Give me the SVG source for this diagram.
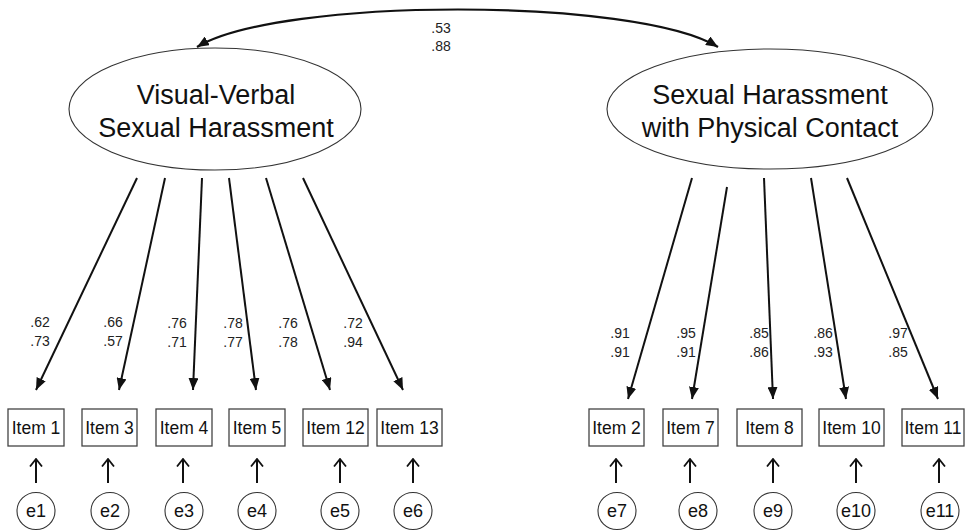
<svg xmlns="http://www.w3.org/2000/svg" width="966" height="531" viewBox="0 0 966 531">
<style>
  .lat{fill:#fff;stroke:#333;stroke-width:1.1}
  .box{fill:#fff;stroke:#444;stroke-width:1.3}
  .err{fill:#fff;stroke:#333;stroke-width:1.1}
  .big{font-family:"Liberation Sans",Arial,sans-serif;font-size:27px;fill:#111;text-anchor:middle}
  .itm{font-family:"Liberation Sans",Arial,sans-serif;font-size:17.5px;fill:#111;text-anchor:middle}
  .el{font-family:"Liberation Sans",Arial,sans-serif;font-size:18px;fill:#111;text-anchor:middle}
  .lbl{font-family:"Liberation Sans",Arial,sans-serif;font-size:14px;fill:#222;text-anchor:middle}
  .ld{fill:none;stroke:#111;stroke-width:2;marker-end:url(#ah)}
  .ea{fill:none;stroke:#111;stroke-width:2;marker-end:url(#oa)}
  .cv{fill:none;stroke:#111;stroke-width:2.2;marker-start:url(#ah2);marker-end:url(#ah)}
</style>
<defs>
  <marker id="ah" viewBox="0 0 12 10" refX="12" refY="5" markerWidth="12" markerHeight="10" markerUnits="userSpaceOnUse" orient="auto">
    <path d="M0,0 L12,5 L0,10 z" fill="#111"/>
  </marker>
  <marker id="ah2" viewBox="0 0 12 10" refX="12" refY="5" markerWidth="12" markerHeight="10" markerUnits="userSpaceOnUse" orient="auto-start-reverse">
    <path d="M0,0 L12,5 L0,10 z" fill="#111"/>
  </marker>
  <marker id="oa" viewBox="0 0 9 14" refX="8" refY="7" markerWidth="9" markerHeight="14" markerUnits="userSpaceOnUse" orient="auto">
    <path d="M0.5,1 L8,7 L0.5,13" fill="none" stroke="#111" stroke-width="1.8"/>
  </marker>
</defs>

<g id="connectors">
  <path class="cv" d="M197,47 C280,-3 636,-3 718,47"/>
  <path class="ld" d="M137,178 L36,390"/>
  <path class="ld" d="M165,178 L119,390"/>
  <path class="ld" d="M202,178 L193,390"/>
  <path class="ld" d="M229,178 L256,390"/>
  <path class="ld" d="M266,178 L330,390"/>
  <path class="ld" d="M303,178 L403,390"/>
  <path class="ld" d="M692,178 L628,399"/>
  <path class="ld" d="M727,187 L692,399"/>
  <path class="ld" d="M764,178 L773,399"/>
  <path class="ld" d="M811,178 L846,399"/>
  <path class="ld" d="M847,178 L938,399"/>
  <path class="ea" d="M36,483 V459"/>
  <path class="ea" d="M108,483 V459"/>
  <path class="ea" d="M183,483 V459"/>
  <path class="ea" d="M257,483 V459"/>
  <path class="ea" d="M340,483 V459"/>
  <path class="ea" d="M413,483 V459"/>
  <path class="ea" d="M616,483 V459"/>
  <path class="ea" d="M690,483 V459"/>
  <path class="ea" d="M773,483 V459"/>
  <path class="ea" d="M856,483 V459"/>
  <path class="ea" d="M939,483 V459"/>
</g>

<g id="labels">
  <text class="lbl" x="441" y="33">.53</text>
  <text class="lbl" x="441" y="51">.88</text>
  <text class="lbl" x="40" y="327">.62</text><text class="lbl" x="40" y="346">.73</text>
  <text class="lbl" x="113" y="327">.66</text><text class="lbl" x="113" y="346">.57</text>
  <text class="lbl" x="177" y="328">.76</text><text class="lbl" x="177" y="347">.71</text>
  <text class="lbl" x="233" y="328">.78</text><text class="lbl" x="233" y="347">.77</text>
  <text class="lbl" x="288" y="328">.76</text><text class="lbl" x="288" y="347">.78</text>
  <text class="lbl" x="353" y="328">.72</text><text class="lbl" x="353" y="347">.94</text>
  <text class="lbl" x="620" y="338">.91</text><text class="lbl" x="620" y="357">.91</text>
  <text class="lbl" x="686" y="338">.95</text><text class="lbl" x="686" y="357">.91</text>
  <text class="lbl" x="759" y="338">.85</text><text class="lbl" x="759" y="357">.86</text>
  <text class="lbl" x="823" y="338">.86</text><text class="lbl" x="823" y="357">.93</text>
  <text class="lbl" x="898" y="338">.97</text><text class="lbl" x="898" y="357">.85</text>
</g>

<g id="f1">
  <ellipse class="lat" cx="215" cy="109" rx="146" ry="61"/>
  <text class="big" x="216" y="104">Visual-Verbal</text>
  <text class="big" x="216" y="137">Sexual Harassment</text>
</g>
<g id="f2">
  <ellipse class="lat" cx="770" cy="109" rx="163" ry="60"/>
  <text class="big" x="770" y="104">Sexual Harassment</text>
  <text class="big" x="770" y="137">with Physical Contact</text>
</g>

<g id="item1"><rect class="box" x="8" y="409" width="56" height="37"/><text class="itm" x="36" y="434">Item 1</text></g>
<g id="item3"><rect class="box" x="82" y="409" width="55" height="37"/><text class="itm" x="109.5" y="434">Item 3</text></g>
<g id="item4"><rect class="box" x="156" y="409" width="56" height="37"/><text class="itm" x="184" y="434">Item 4</text></g>
<g id="item5"><rect class="box" x="229" y="409" width="56" height="37"/><text class="itm" x="257" y="434">Item 5</text></g>
<g id="item12"><rect class="box" x="303" y="409" width="65" height="37"/><text class="itm" x="335.5" y="434">Item 12</text></g>
<g id="item13"><rect class="box" x="377" y="409" width="65" height="37"/><text class="itm" x="409.5" y="434">Item 13</text></g>
<g id="item2"><rect class="box" x="589" y="409" width="55" height="37"/><text class="itm" x="616.5" y="434">Item 2</text></g>
<g id="item7"><rect class="box" x="663" y="409" width="55" height="37"/><text class="itm" x="690.5" y="434">Item 7</text></g>
<g id="item8"><rect class="box" x="737" y="409" width="65" height="37"/><text class="itm" x="769.5" y="434">Item 8</text></g>
<g id="item10"><rect class="box" x="819" y="409" width="65" height="37"/><text class="itm" x="851.5" y="434">Item 10</text></g>
<g id="item11"><rect class="box" x="902" y="409" width="62" height="37"/><text class="itm" x="933" y="434">Item 11</text></g>

<g id="e1"><ellipse class="err" cx="36" cy="511" rx="19" ry="18.5"/><text class="el" x="36" y="517">e1</text></g>
<g id="e2"><ellipse class="err" cx="110" cy="511" rx="19" ry="18.5"/><text class="el" x="110" y="517">e2</text></g>
<g id="e3"><ellipse class="err" cx="184" cy="511" rx="19" ry="18.5"/><text class="el" x="184" y="517">e3</text></g>
<g id="e4"><ellipse class="err" cx="257" cy="511" rx="19" ry="18.5"/><text class="el" x="257" y="517">e4</text></g>
<g id="e5"><ellipse class="err" cx="340" cy="511" rx="19" ry="18.5"/><text class="el" x="340" y="517">e5</text></g>
<g id="e6"><ellipse class="err" cx="413" cy="511" rx="19" ry="18.5"/><text class="el" x="413" y="517">e6</text></g>
<g id="e7"><ellipse class="err" cx="617" cy="511" rx="19" ry="18.5"/><text class="el" x="617" y="517">e7</text></g>
<g id="e8"><ellipse class="err" cx="698" cy="511" rx="19" ry="18.5"/><text class="el" x="698" y="517">e8</text></g>
<g id="e9"><ellipse class="err" cx="773" cy="511" rx="19" ry="18.5"/><text class="el" x="773" y="517">e9</text></g>
<g id="e10"><ellipse class="err" cx="856" cy="511" rx="19" ry="18.5"/><text class="el" x="856" y="517">e10</text></g>
<g id="e11"><ellipse class="err" cx="940" cy="511" rx="19" ry="18.5"/><text class="el" x="940" y="517">e11</text></g>
</svg>
